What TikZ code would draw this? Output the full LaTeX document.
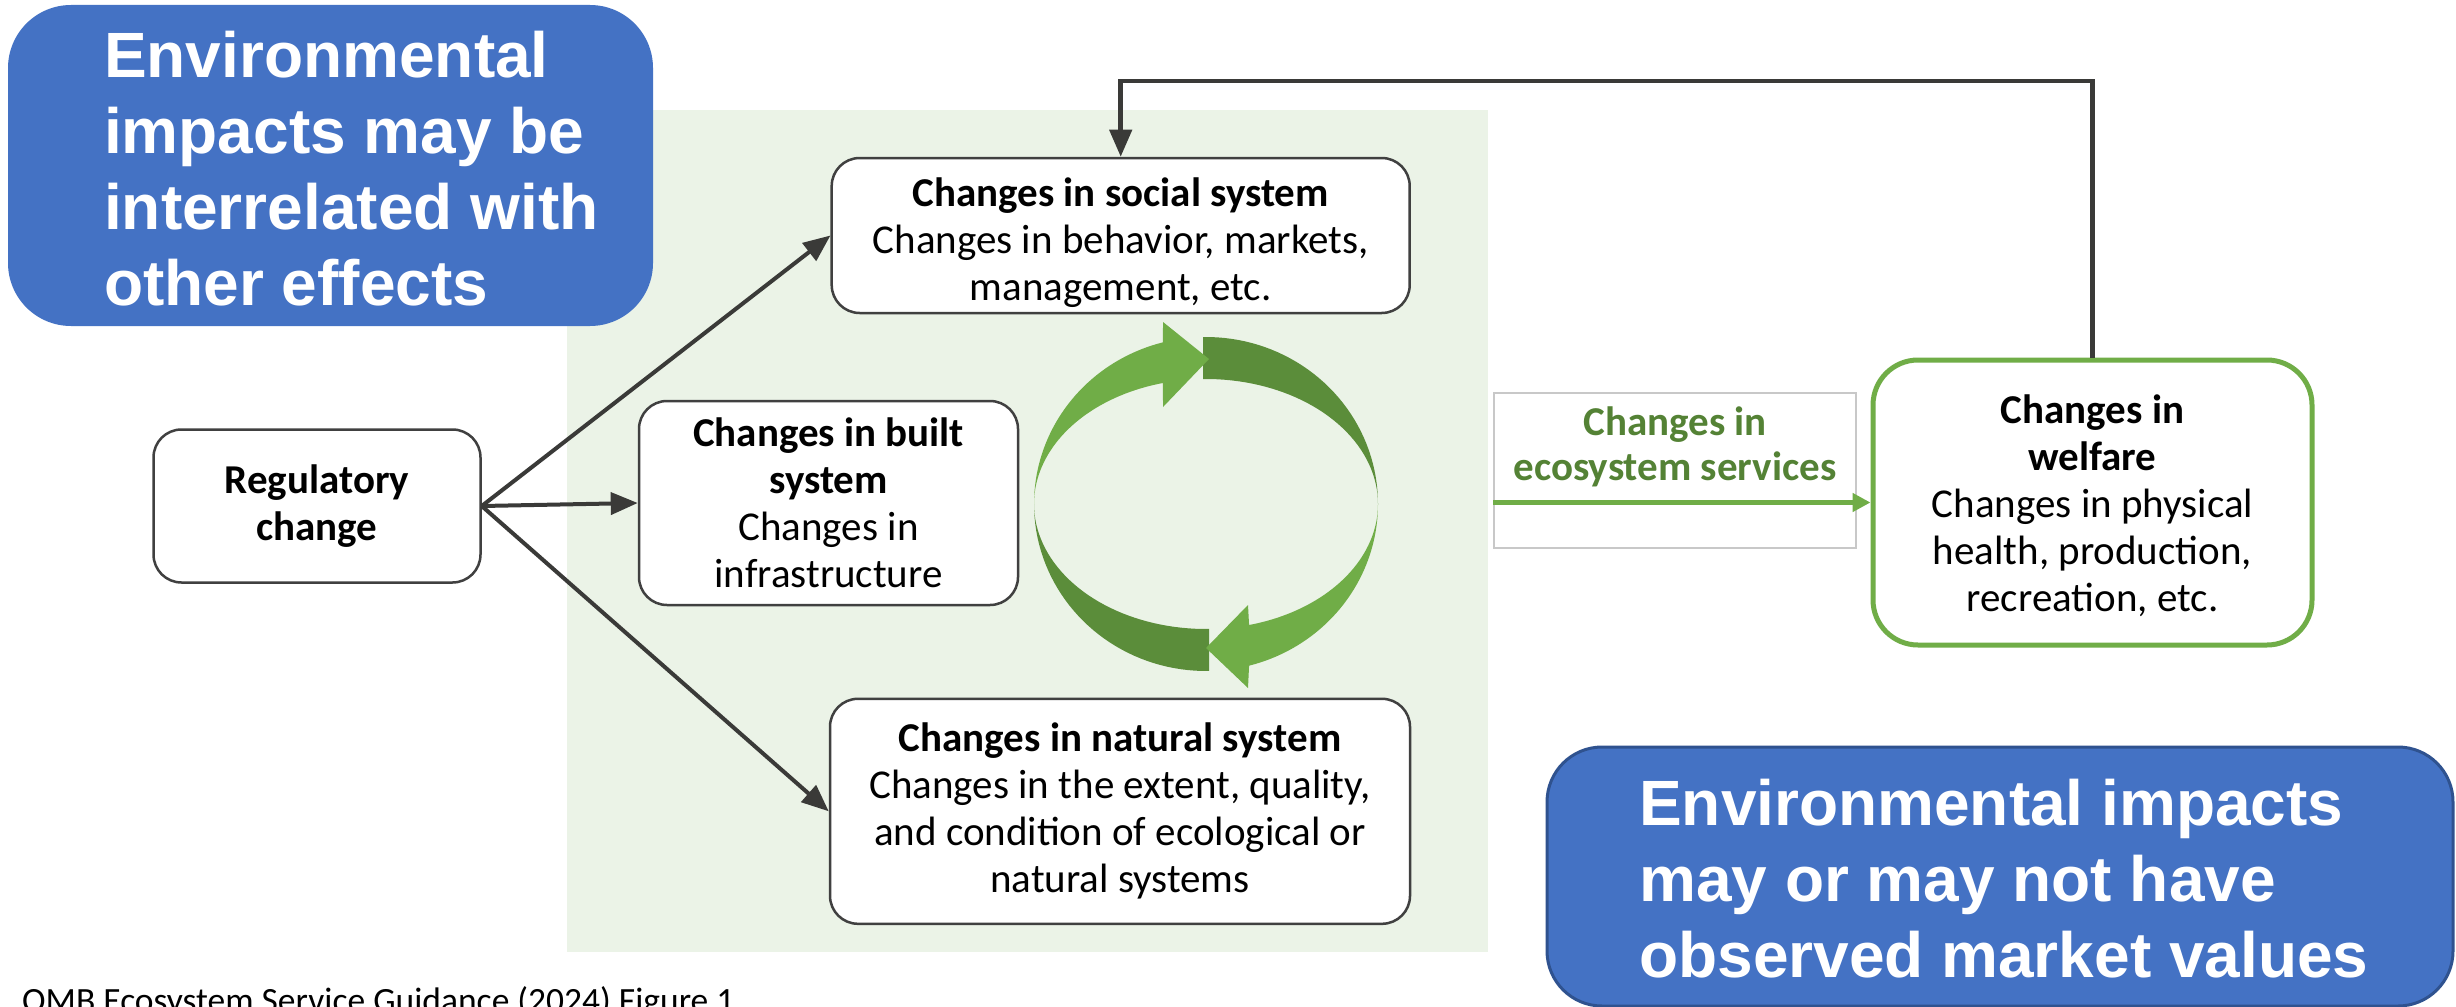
\documentclass[tikz,border=0pt]{standalone}
\usepackage{fontspec}
\setmainfont{Carlito}
\newfontfamily\calloutfont{Liberation Sans}
\usetikzlibrary{arrows.meta,calc}
\definecolor{boxline}{HTML}{404040}
\definecolor{arrowc}{HTML}{3A3A38}
\definecolor{panelc}{HTML}{EBF3E7}
\definecolor{lgreen}{HTML}{70AD47}
\definecolor{dgreen}{HTML}{5B8D3A}
\definecolor{ecotext}{HTML}{548235}
\definecolor{calloutc}{HTML}{4472C4}
\definecolor{calloutb}{HTML}{2F528F}
\definecolor{ecoline}{HTML}{C8C8C8}
\begin{document}
\begin{tikzpicture}[x=1pt,y=-1pt,
 box/.style={draw=boxline, line width=2.5pt, fill=white, rounded corners=28pt, inner sep=0pt, align=center, font=\fontsize{41}{47}\selectfont},
 arr/.style={draw=arrowc, line width=4pt, -{Triangle[length=27pt,width=22pt]}},
 callout/.style={fill=calloutc, inner sep=0pt},
 callouttext/.style={text=white, align=left, inner sep=0pt, anchor=base west, font=\calloutfont\bfseries\fontsize{64}{76}\selectfont}]
\useasboundingbox (0,0) rectangle (2456,1006);
\fill[white] (0,0) rectangle (2456,1006);
% panel
\node[fill=panelc, minimum width=921pt, minimum height=842pt, inner sep=0pt] (panel) at (1027.5,531) {};
% callouts
\node[callout, rounded corners=63pt, minimum width=645pt, minimum height=321pt] (call1) at (330.5,165.5) {};
\node[callouttext] (call1t) at (104,305) {Environmental\\impacts may be\\interrelated with\\other effects};
\node[callout, draw=calloutb, line width=3pt, rounded corners=55pt, minimum width=906pt, minimum height=259pt] (call2) at (2000,876.5) {};
\node[callouttext] (call2t) at (1639,977) {Environmental impacts\\may or may not have\\observed market values};
% cycle arrows
\fill[dgreen] plot[domain=91:0, samples=40] ({1206+172*cos(\x)},{504-167*sin(\x)})
  -- plot[domain=0:91, samples=40] ({1206+172*cos(\x)},{504-125*sin(\x)}) -- cycle;
\fill[dgreen] plot[domain=-89:-180, samples=40] ({1206+172*cos(\x)},{504-167*sin(\x)})
  -- plot[domain=-180:-89, samples=40] ({1206+172*cos(\x)},{504-125*sin(\x)}) -- cycle;
\fill[lgreen] plot[domain=180:104.5, samples=40] ({1206+172*cos(\x)},{504-167*sin(\x)})
  -- (1163,322) -- (1209,359) -- (1163,407)
  -- plot[domain=104.5:180, samples=40] ({1206+172*cos(\x)},{504-125*sin(\x)}) -- cycle;
\fill[lgreen] plot[domain=0:-75.5, samples=40] ({1206+172*cos(\x)},{504-167*sin(\x)})
  -- (1248,688) -- (1206,648) -- (1248,605)
  -- plot[domain=-75.5:0, samples=40] ({1206+172*cos(\x)},{504-125*sin(\x)}) -- cycle;
% boxes
\node[box, minimum width=327pt, minimum height=153pt] (reg) at (317,506) {\textbf{Regulatory}\\\textbf{change}};
\node[box, minimum width=379pt, minimum height=204pt] (built) at (828.5,503) {\textbf{Changes in built}\\\textbf{system}\\Changes in\\infrastructure};
\node[box, minimum width=578pt, minimum height=155pt, text height=138pt] (social) at (1120.7,235.5) {\textbf{Changes in social system}\\Changes in behavior, markets,\\management, etc.};
\node[box, minimum width=580pt, minimum height=225pt] (natural) at (1120,811.3) {\textbf{Changes in natural system}\\Changes in the extent, quality,\\and condition of ecological or\\natural systems};
\node[draw=ecoline, line width=1.8pt, fill=white, minimum width=362pt, minimum height=155pt, inner sep=0pt] (eco) at (1675,470.5) {};
\node[text=ecotext, align=center, inner sep=0pt, anchor=base, font=\bfseries\fontsize{41}{45}\selectfont] (ecot) at (1675,480) {Changes in\\ecosystem services};
\node[box, draw=lgreen, line width=5pt, rounded corners=45pt, minimum width=439pt, minimum height=285pt, text height=224pt] (welfare) at (2092.5,502.5) {\textbf{Changes in}\\\textbf{welfare}\\Changes in physical\\health, production,\\recreation, etc.};
% caption
\node[anchor=base west, inner sep=0pt, font=\fontsize{35.5}{40}\selectfont] (cap) at (22,1012) {OMB Ecosystem Service Guidance (2024) Figure 1};
% connectors
\draw[arr] (reg.east) -- (social.west);
\draw[arr] (reg.east) -- (built.west);
\draw[arr] (reg.east) -- (natural.west);
\coordinate (fbtop) at (0,81);
\draw[arr, line width=4.5pt] (welfare.north) |- (social.north |- fbtop) -- (social.north);
\draw[draw=lgreen, line width=4.5pt, -{Triangle[length=18pt,width=18pt]}] (eco.west |- welfare.west) -- (welfare.west);
\end{tikzpicture}
\end{document}
